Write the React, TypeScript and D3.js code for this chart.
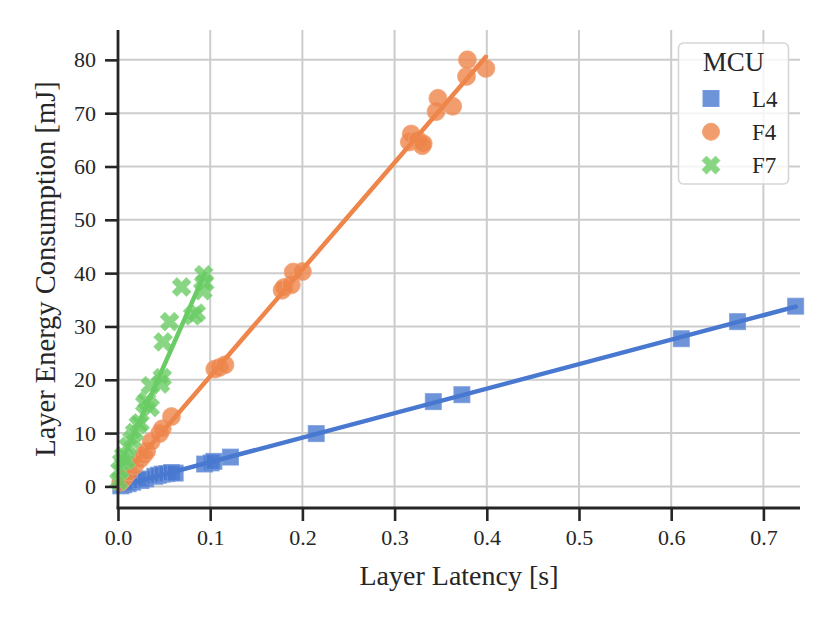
import React, { useEffect, useRef } from 'react';
import * as d3 from 'd3';

const W = 830;
const H = 623;

// MCU series: layer latency [s] vs. layer energy consumption [mJ]
const l4Latency = [0.003, 0.006, 0.011, 0.016, 0.025, 0.03, 0.04, 0.044, 0.048, 0.053, 0.058, 0.062, 0.094, 0.101, 0.104, 0.122, 0.215, 0.342, 0.373, 0.611, 0.672, 0.735];
const l4Energy = [0.1, 0.3, 0.5, 0.8, 1.1, 1.4, 1.9, 2.1, 2.3, 2.4, 2.6, 2.5, 4.2, 4.4, 4.7, 5.5, 9.9, 15.9, 17.2, 27.7, 30.9, 33.8];

const f4Latency = [0.003, 0.007, 0.012, 0.018, 0.024, 0.028, 0.031, 0.036, 0.045, 0.048, 0.058, 0.105, 0.11, 0.116, 0.178, 0.18, 0.188, 0.19, 0.2, 0.316, 0.318, 0.325, 0.33, 0.331, 0.345, 0.347, 0.363, 0.378, 0.379, 0.399];
const f4Energy = [0.8, 1.6, 2.7, 3.9, 5.1, 5.9, 6.6, 8.4, 9.9, 10.8, 13.1, 22.0, 22.3, 22.8, 36.8, 37.3, 37.8, 40.2, 40.3, 64.6, 66.1, 65.0, 63.9, 64.3, 70.3, 72.8, 71.3, 76.9, 80.0, 78.4];

const f7Latency = [0.001, 0.002, 0.004, 0.006, 0.009, 0.011, 0.015, 0.018, 0.022, 0.024, 0.029, 0.031, 0.035, 0.035, 0.046, 0.048, 0.049, 0.056, 0.069, 0.081, 0.085, 0.092, 0.093, 0.094];
const f7Energy = [1.0, 3.0, 4.6, 5.7, 4.9, 7.5, 8.8, 10.1, 11.6, 11.9, 15.5, 16.0, 14.8, 18.9, 19.2, 20.4, 27.1, 30.9, 37.4, 32.0, 32.5, 36.7, 39.7, 38.2];

const mcuNames = ['L4', 'F4', 'F7'];
const mcuColors = ['#4878d0', '#ee854a', '#6acc64'];
const mcuMarkers = ['square', 'circle', 'x'];

const xTicks = [0, 0.1, 0.2, 0.3, 0.4, 0.5, 0.6, 0.7];
const yTicks = [0, 10, 20, 30, 40, 50, 60, 70, 80];

const FONT = '"Liberation Serif", "Times New Roman", serif';

// matplotlib's filled "X" marker: a plus rotated by 45 degrees
const xMarkerPath = (size: number) => {
  const s = size / 6;
  const pts = [[-1, -3], [1, -3], [1, -1], [3, -1], [3, 1], [1, 1], [1, 3], [-1, 3], [-1, 1], [-3, 1], [-3, -1], [-1, -1]];
  const c = Math.SQRT1_2;
  return 'M' + pts.map(([px, py]) => `${((px - py) * c * s).toFixed(2)},${((px + py) * c * s).toFixed(2)}`).join('L') + 'Z';
};

const linearFit = (xs: number[], ys: number[]) => {
  const mx = d3.mean(xs)!;
  const my = d3.mean(ys)!;
  let num = 0;
  let den = 0;
  xs.forEach((x, i) => {
    num += (x - mx) * (ys[i] - my);
    den += (x - mx) * (x - mx);
  });
  const slope = num / den;
  return { slope, intercept: my - slope * mx };
};

const App: React.FC = () => {
  const svgRef = useRef<SVGSVGElement>(null);

  useEffect(() => {
    if (!svgRef.current) return;
    const svg = d3.select(svgRef.current);
    svg.selectAll('*').remove();

    const left = 118;
    const right = 800;
    const top = 30;
    const bottom = 508;

    const x = d3.scaleLinear().domain([0, 0.7397]).range([left, right]);
    const y = d3.scaleLinear().domain([-4.05, 85.6]).range([bottom, top]);

    // Grid
    const grid = svg.append('g');
    grid.selectAll('.gx')
      .data(xTicks)
      .enter()
      .append('line')
      .attr('x1', d => x(d))
      .attr('x2', d => x(d))
      .attr('y1', top)
      .attr('y2', bottom)
      .attr('stroke', '#cccccc')
      .attr('stroke-width', 2);
    grid.selectAll('.gy')
      .data(yTicks)
      .enter()
      .append('line')
      .attr('x1', left)
      .attr('x2', right)
      .attr('y1', d => y(d))
      .attr('y2', d => y(d))
      .attr('stroke', '#cccccc')
      .attr('stroke-width', 2);

    const series = [
      { xs: l4Latency, ys: l4Energy },
      { xs: f4Latency, ys: f4Energy },
      { xs: f7Latency, ys: f7Energy }
    ];

    const plot = svg.append('g');
    series.forEach((s, i) => {
      const color = mcuColors[i];
      const pts = s.xs.map((v, j) => [v, s.ys[j]] as [number, number]);
      const g = plot.append('g');
      const marks = g.selectAll('.pt')
        .data(pts)
        .enter();
      if (mcuMarkers[i] === 'square') {
        marks.append('rect')
          .attr('x', d => x(d[0]) - 8)
          .attr('y', d => y(d[1]) - 8)
          .attr('width', 16)
          .attr('height', 16);
      } else if (mcuMarkers[i] === 'circle') {
        marks.append('circle')
          .attr('cx', d => x(d[0]))
          .attr('cy', d => y(d[1]))
          .attr('r', 9);
      } else {
        marks.append('path')
          .attr('d', xMarkerPath(20))
          .attr('transform', d => `translate(${x(d[0])},${y(d[1])})`);
      }
      g.selectAll('rect, circle, path')
        .attr('fill', color)
        .attr('fill-opacity', 0.8)
        .attr('stroke', d3.interpolateRgb(color, '#ffffff')(0.25))
        .attr('stroke-opacity', 0.8)
        .attr('stroke-width', 1);

      // Regression line over the data range
      const fit = linearFit(s.xs, s.ys);
      const [x0, x1] = d3.extent(s.xs) as [number, number];
      plot.append('line')
        .attr('x1', x(Math.min(x0, 0.001)))
        .attr('y1', y(fit.intercept + fit.slope * Math.min(x0, 0.001)))
        .attr('x2', x(x1))
        .attr('y2', y(fit.intercept + fit.slope * x1))
        .attr('stroke', color)
        .attr('stroke-width', 4.5)
        .attr('stroke-linecap', 'round');
    });

    // Axes (left and bottom spines only)
    const xAxis = svg.append('g')
      .attr('transform', `translate(0,${bottom})`)
      .call(d3.axisBottom(x).tickValues(xTicks).tickFormat(d3.format('.1f')).tickSize(13).tickPadding(8));
    const yAxis = svg.append('g')
      .attr('transform', `translate(${left},0)`)
      .call(d3.axisLeft(y).tickValues(yTicks).tickFormat(d3.format('d')).tickSize(13).tickPadding(9));
    [xAxis, yAxis].forEach(a => {
      a.select('.domain').remove();
      a.selectAll('line').attr('stroke', '#262626').attr('stroke-width', 2.6);
      a.selectAll('text')
        .attr('fill', '#262626')
        .style('font-family', FONT)
        .style('font-size', '22px');
    });
    svg.append('line')
      .attr('x1', left).attr('x2', left)
      .attr('y1', top).attr('y2', bottom + 1.3)
      .attr('stroke', '#262626').attr('stroke-width', 2.8);
    svg.append('line')
      .attr('x1', left - 1.3).attr('x2', right)
      .attr('y1', bottom).attr('y2', bottom)
      .attr('stroke', '#262626').attr('stroke-width', 2.8);

    // Axis labels
    svg.append('text')
      .attr('x', (left + right) / 2)
      .attr('y', 585)
      .attr('text-anchor', 'middle')
      .attr('fill', '#262626')
      .style('font-family', FONT)
      .style('font-size', '28px')
      .text('Layer Latency [s]');
    svg.append('text')
      .attr('transform', `translate(55,${(top + bottom) / 2}) rotate(-90)`)
      .attr('text-anchor', 'middle')
      .attr('fill', '#262626')
      .style('font-family', FONT)
      .style('font-size', '28.5px')
      .text('Layer Energy Consumption [mJ]');

    // Legend
    const legend = svg.append('g');
    legend.append('rect')
      .attr('x', 678.5)
      .attr('y', 43)
      .attr('width', 110)
      .attr('height', 141)
      .attr('rx', 5)
      .attr('fill', '#ffffff')
      .attr('fill-opacity', 0.8)
      .attr('stroke', '#d6d6d6')
      .attr('stroke-width', 1.6);
    legend.append('text')
      .attr('x', 733.5)
      .attr('y', 71)
      .attr('text-anchor', 'middle')
      .attr('fill', '#262626')
      .style('font-family', FONT)
      .style('font-size', '27px')
      .text('MCU');
    mcuNames.forEach((name, i) => {
      const cy = 98.5 + i * 33.3;
      const color = mcuColors[i];
      let m;
      if (mcuMarkers[i] === 'square') {
        m = legend.append('rect').attr('x', 703).attr('y', cy - 8).attr('width', 16).attr('height', 16);
      } else if (mcuMarkers[i] === 'circle') {
        m = legend.append('circle').attr('cx', 711).attr('cy', cy).attr('r', 8.5);
      } else {
        m = legend.append('path').attr('d', xMarkerPath(19)).attr('transform', `translate(711,${cy})`);
      }
      m.attr('fill', color)
        .attr('fill-opacity', 0.8)
        .attr('stroke', d3.interpolateRgb(color, '#ffffff')(0.25))
        .attr('stroke-width', 1);
      legend.append('text')
        .attr('x', 752)
        .attr('y', cy + 8)
        .attr('fill', '#262626')
        .style('font-family', FONT)
        .style('font-size', '23px')
        .text(name);
    });
  }, []);

  return (
    <svg
      ref={svgRef}
      width={W}
      height={H}
      style={{ position: 'absolute', left: 0, top: 0, background: '#ffffff' }}
    />
  );
};

export default App;
